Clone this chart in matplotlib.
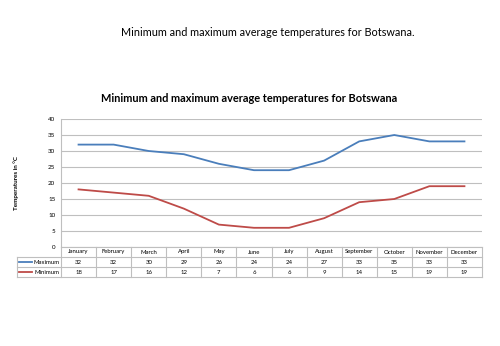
import numpy as np
import matplotlib.pyplot as plt

plt.rcParams['font.family'] = ['Lato', 'DejaVu Sans']

months = ['January', 'February', 'March', 'April', 'May', 'June', 'July',
          'August', 'September', 'October', 'November', 'December']
maximum = [32, 32, 30, 29, 26, 24, 24, 27, 33, 35, 33, 33]
minimum = [18, 17, 16, 12, 7, 6, 6, 9, 14, 15, 19, 19]
yticks = [0, 5, 10, 15, 20, 25, 30, 35, 40]

blue = '#4a7ebb'
red = '#be4b48'
grid_col = '#bfbfbf'

W, H = 500, 346
fig = plt.figure(figsize=(W / 100, H / 100), dpi=100)

def box(left, top, right, bottom):
    return [left / W, 1 - bottom / H, (right - left) / W, (bottom - top) / H]

fig.text(268 / W, 1 - 33 / H, 'Minimum and maximum average temperatures for Botswana.',
         ha='center', va='center', fontsize=7.8)
fig.text(249 / W, 1 - 98 / H, 'Minimum and maximum average temperatures for Botswana',
         ha='center', va='center', fontsize=7.9, fontweight='bold')

# line chart
ax = fig.add_axes(box(61, 119, 482, 247))
x = np.arange(len(months))
ax.plot(x, maximum, color=blue, lw=1.3)
ax.plot(x, minimum, color=red, lw=1.3)
ax.set_xlim(-0.5, len(months) - 0.5)
ax.set_ylim(0, 40)
ax.set_yticks(yticks)
ax.set_yticklabels([str(v) for v in yticks], fontsize=4.5)
ax.set_xticks([])
ax.tick_params(axis='y', length=0, pad=4)
ax.grid(axis='y', color=grid_col, lw=0.8)
ax.set_axisbelow(True)
for s in ['top', 'right', 'bottom']:
    ax.spines[s].set_visible(False)
ax.spines['left'].set_color(grid_col)
ax.set_ylabel('Temperatures in °C', fontsize=4.5, fontweight='bold', labelpad=21)

# data table below
tab = fig.add_axes(box(61, 247, 482, 277))
tab.set_xlim(-0.5, len(months) - 0.5)
tab.set_ylim(3, 0)
tab.axis('off')
lab_left = -0.5 - 44 / (421 / 12)
kw = dict(color=grid_col, lw=0.8, clip_on=False)
tab.plot([-0.5, 11.5], [0, 0], **kw)
for r in [1, 2, 3]:
    tab.plot([lab_left, 11.5], [r, r], **kw)
tab.plot([lab_left, lab_left], [1, 3], **kw)
for c in np.arange(-0.5, 12, 1):
    tab.plot([c, c], [0, 3], **kw)
for i, m in enumerate(months):
    tab.text(i, 0.5, m, ha='center', va='center', fontsize=4.3)
    tab.text(i, 1.5, str(maximum[i]), ha='center', va='center', fontsize=4.3)
    tab.text(i, 2.5, str(minimum[i]), ha='center', va='center', fontsize=4.3)
for r, name, col in [(1.5, 'Maximum', blue), (2.5, 'Minimum', red)]:
    tab.plot([lab_left + 0.06, lab_left + 0.42], [r, r], color=col, lw=1.3, clip_on=False)
    tab.text(-0.53, r, name, ha='right', va='center', fontsize=4.3)

fig.savefig('out.png', dpi=100)
